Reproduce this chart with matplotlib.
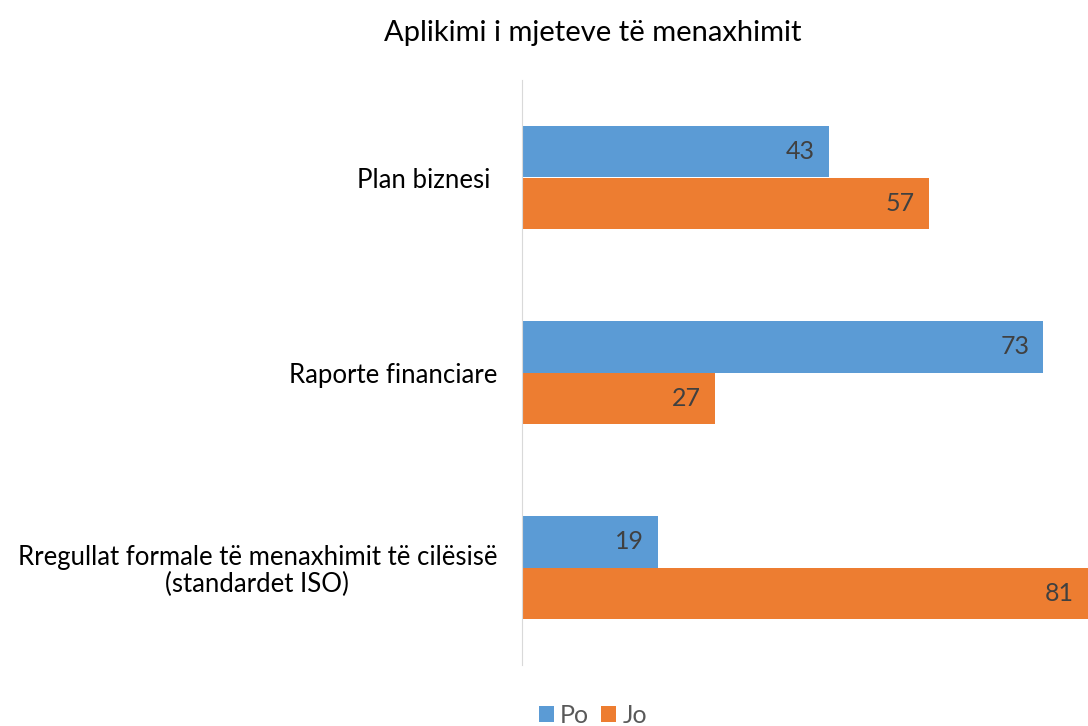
import matplotlib.pyplot as plt
import numpy as np

plt.rcParams['font.family'] = ['Lato', 'DejaVu Sans']

categories = ['Plan biznesi ', 'Raporte financiare',
              'Rregullat formale të menaxhimit të cilësisë\n(standardet ISO)']
po = [43, 73, 19]
jo = [57, 27, 81]
series_names = ['Po', 'Jo']
colors = ['#5B9BD5', '#ED7D31']

fig = plt.figure(figsize=(10.88, 7.26), dpi=100)
ax = fig.add_axes([522 / 1088, 61 / 726, 566 / 1088, 585 / 726])

y = np.arange(len(categories))
h = 0.262
xmax = 79.3
bars_po = ax.barh(y - h / 2, po, height=h, color=colors[0], label=series_names[0])
bars_jo = ax.barh(y + h / 2, jo, height=h, color=colors[1], label=series_names[1])

for bars, vals in [(bars_po, po), (bars_jo, jo)]:
    for b, v in zip(bars, vals):
        ax.annotate(str(v), (min(v, xmax), b.get_y() + b.get_height() / 2),
                    xytext=(-10, 0), textcoords='offset points',
                    ha='right', va='center', fontsize=18, color='#404040')

ax.set_xlim(0, xmax)
ax.set_ylim(2.5, -0.5)
ax.set_yticks(y)
ax.set_yticklabels(categories, fontsize=18.5, ha='right', multialignment='center',
                   color='black', linespacing=1.1)
ax.tick_params(axis='y', length=0, pad=18)
ax.set_xticks([])
for s in ['top', 'right', 'bottom']:
    ax.spines[s].set_visible(False)
ax.spines['left'].set_color('#D9D9D9')

fig.text(0.545, 0.955, 'Aplikimi i mjeteve të menaxhimit', ha='center', va='center',
         fontsize=21, color='black')

fig.legend(loc='center', bbox_to_anchor=(0.545, 0.015), ncol=2, frameon=False,
           fontsize=18, handlelength=0.6, handleheight=0.6, handletextpad=0.25,
           columnspacing=0.5, labelcolor='#595959')

fig.savefig('out.png', dpi=100)
